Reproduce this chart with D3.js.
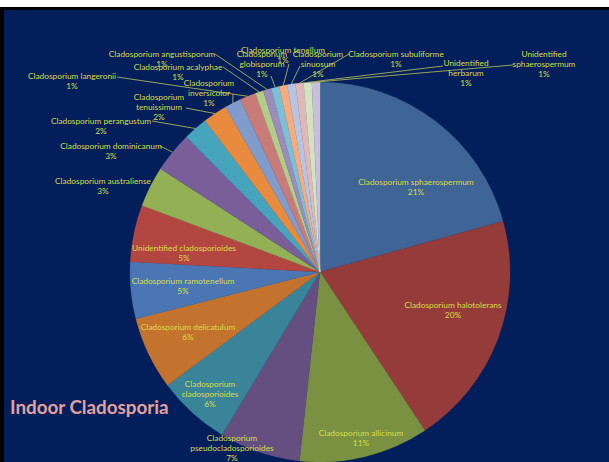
<!DOCTYPE html>
<html>
<head>
<meta charset="utf-8">
<script src="https://cdn.jsdelivr.net/npm/d3@7"></script>
<style>
  html, body { margin: 0; padding: 0; background: #ffffff; }
  svg { display: block; }
  text { font-family: Lato, "Open Sans", "Liberation Sans", sans-serif; }
</style>
</head>
<body>
<svg id="chart" width="609" height="462"></svg>
<script>
// Isolate counts per species (indoor samples)
const species = [
  "Cladosporium sphaerospermum",
  "Cladosporium halotolerans",
  "Cladosporium allicinum",
  "Cladosporium pseudocladosporioides",
  "Cladosporium cladosporioides",
  "Cladosporium delicatulum",
  "Cladosporium ramotenellum",
  "Unidentified cladosporioides",
  "Cladosporium australiense",
  "Cladosporium dominicanum",
  "Cladosporium perangustum",
  "Cladosporium tenuissimum",
  "Cladosporium inversicolor",
  "Cladosporium langeronii",
  "Cladosporium acalyphae",
  "Cladosporium angustisporum",
  "Cladosporium globisporum",
  "Cladosporium tenellum",
  "Cladosporium sinuosum",
  "Cladosporium subuliforme",
  "Unidentified herbarum",
  "Unidentified sphaerospermum"
];
const counts = [30, 29, 16, 10, 9, 9, 7, 7, 5, 5, 3, 3, 2, 2, 1, 1, 1, 1, 1, 1, 1, 1];
const sliceColors = [
  "#3f6496", "#953c3a", "#7a9141", "#654f80", "#3a8499", "#c4732f",
  "#4a77b4", "#b44642", "#93b055", "#7a5e9a", "#47a4bd", "#e98b3f",
  "#7f9ccc", "#c97b7a", "#b3cc88", "#9d8cbb", "#7cc0d5", "#f8ac7d",
  "#b9c4e2", "#e0b8b8", "#d5e2bf", "#c8bfd8"
];
const chartTitle = "Indoor Cladosporia";

// Label placement: text block position, whether the name wraps after its
// first word, and (for labels outside the pie) where the leader line starts.
const labelLayout = [
  { x: 416, y: 182 },
  { x: 453, y: 305 },
  { x: 361, y: 433 },
  { x: 232, y: 438, wrap: true },
  { x: 210, y: 384, wrap: true },
  { x: 188, y: 327 },
  { x: 183, y: 281 },
  { x: 184, y: 248 },
  { x: 103, y: 181 },
  { x: 111, y: 146, lead: [160, 146] },
  { x: 101, y: 121, lead: [152, 121] },
  { x: 159, y: 97, wrap: true, lead: [186, 108] },
  { x: 209, y: 83, wrap: true, lead: [233, 94] },
  { x: 72, y: 76, lead: [117, 77] },
  { x: 178, y: 67, lead: [223, 67] },
  { x: 162, y: 54, lead: [215, 54] },
  { x: 262, y: 54, wrap: true, lead: [271, 76] },
  { x: 283, y: 50, lead: [289, 64] },
  { x: 318, y: 54, wrap: true, lead: [300, 66] },
  { x: 396, y: 54, lead: [349, 54] },
  { x: 466, y: 63, wrap: true, lead: [443, 66] },
  { x: 544, y: 54, wrap: true, lead: [513, 65] }
];

const W = 609, H = 462;
const cx = 320, cy = 272, R = 190;
const labelColor = "#d8dd46";
const lineHeight = 10.2;

const svg = d3.select("#chart");

// slide frame
svg.append("rect").attr("x", 0).attr("y", 7).attr("width", W).attr("height", H - 7).attr("fill", "#000000");
svg.append("rect").attr("x", 4).attr("y", 10).attr("width", W - 4).attr("height", H - 10).attr("fill", "#021f5c");

const data = species.map((name, i) => ({ name, count: counts[i], color: sliceColors[i], layout: labelLayout[i] }));
const total = d3.sum(counts);

const pie = d3.pie().sort(null).value(d => d.count);
const arcs = pie(data);
const arc = d3.arc().innerRadius(0).outerRadius(R);
const edge = d3.arc().innerRadius(R).outerRadius(R);

const g = svg.append("g").attr("transform", `translate(${cx},${cy})`);

g.selectAll("path.slice")
  .data(arcs)
  .join("path")
  .attr("class", "slice")
  .attr("d", arc)
  .attr("fill", d => d.data.color)
  .attr("stroke", d => d.data.color)
  .attr("stroke-width", 0.3);

// leader lines for labels outside the pie
const leaders = arcs.filter(d => d.data.layout.lead);
svg.append("g").selectAll("polyline")
  .data(leaders)
  .join("polyline")
  .attr("fill", "none")
  .attr("stroke", "#bfc55a")
  .attr("stroke-width", 0.8)
  .attr("points", d => {
    const [ex, ey] = edge.centroid(d);
    const [ax, ay] = d.data.layout.lead;
    return `${ax},${ay} ${cx + ex},${cy + ey}`;
  });

// data labels: name (optionally wrapped) and rounded percentage
const labels = svg.append("g").selectAll("text.lbl")
  .data(arcs)
  .join("text")
  .attr("class", "lbl")
  .attr("fill", labelColor)
  .attr("font-size", 8.3)
  .attr("text-anchor", "middle");

labels.each(function (d) {
  const L = d.data.layout;
  const name = d.data.name;
  let lines;
  if (L.wrap) {
    const k = name.indexOf(" ");
    lines = [name.slice(0, k), name.slice(k + 1)];
  } else {
    lines = [name];
  }
  lines.push(Math.round(d.data.count / total * 100) + "%");
  d3.select(this).selectAll("tspan")
    .data(lines)
    .join("tspan")
    .attr("x", L.x)
    .attr("y", (s, j) => L.y + j * lineHeight)
    .attr("dy", "0.35em")
    .text(s => s);
});

// chart title
svg.append("text")
  .attr("x", 10)
  .attr("y", 414)
  .attr("fill", "#e4a09c")
  .attr("font-size", 18.8)
  .attr("font-weight", "bold")
  .text(chartTitle);
</script>
</body>
</html>
